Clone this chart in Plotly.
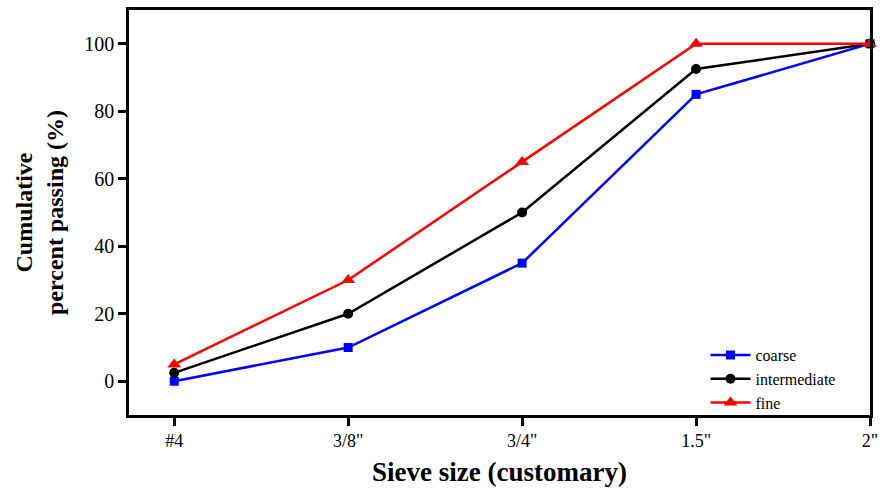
import plotly.graph_objects as go

sieves = ['#4', '3/8"', '3/4"', '1.5"', '2"']
coarse = [0, 10, 35, 85, 100]
intermediate = [2.5, 20, 50, 92.5, 100]
fine = [5, 30, 65, 100, 100]

font = "Liberation Serif"
x = list(range(len(sieves)))

fig = go.Figure()
fig.add_trace(go.Scatter(x=x, y=coarse, name="coarse", mode="lines+markers",
                         line=dict(color="#0000ff", width=2.5),
                         marker=dict(symbol="square", size=9, color="#0000ff"),
                         cliponaxis=False))
fig.add_trace(go.Scatter(x=x, y=intermediate, name="intermediate", mode="lines+markers",
                         line=dict(color="#000000", width=2.5),
                         marker=dict(symbol="circle", size=10, color="#000000"),
                         cliponaxis=False))
fig.add_trace(go.Scatter(x=x, y=fine, name="fine", mode="lines+markers",
                         line=dict(color="#ff0000", width=2.5),
                         marker=dict(symbol="triangle-up", size=12, color="#ff0000"),
                         cliponaxis=False))

fig.update_layout(
    width=885, height=489,
    margin=dict(l=129, r=7, t=10, b=74),
    paper_bgcolor="white", plot_bgcolor="white",
    font=dict(family=font, color="black", size=16),
    showlegend=True,
    legend=dict(x=0.778, y=0.19, xanchor="left", yanchor="top",
                bgcolor="rgba(0,0,0,0)", borderwidth=0,
                font=dict(family=font, size=16, color="black"), tracegroupgap=0,
                itemwidth=40),
    xaxis=dict(
        range=[-0.26, 4.0], tickmode="array", tickvals=x, ticktext=sieves,
        tickfont=dict(family=font, size=18, color="black"),
        showline=True, linecolor="black", linewidth=2.5, mirror=True,
        ticks="outside", ticklen=8, tickwidth=2.5, tickcolor="black",
        showgrid=False, zeroline=False,
        title=dict(text="<b>Sieve size (customary)</b>", font=dict(size=27, family=font, color="black"), standoff=12),
    ),
    yaxis=dict(
        range=[-10, 110], tickvals=[0, 20, 40, 60, 80, 100],
        tickfont=dict(family=font, size=20, color="black"),
        showline=True, linecolor="black", linewidth=2.5, mirror=True,
        ticks="outside", ticklen=8, tickwidth=2.5, tickcolor="black",
        showgrid=False, zeroline=False,
        title=dict(text="<b>Cumulative<br>percent passing (%)</b>", font=dict(size=24, family=font, color="black"), standoff=14),
    ),
)

fig.write_html("out.html")
